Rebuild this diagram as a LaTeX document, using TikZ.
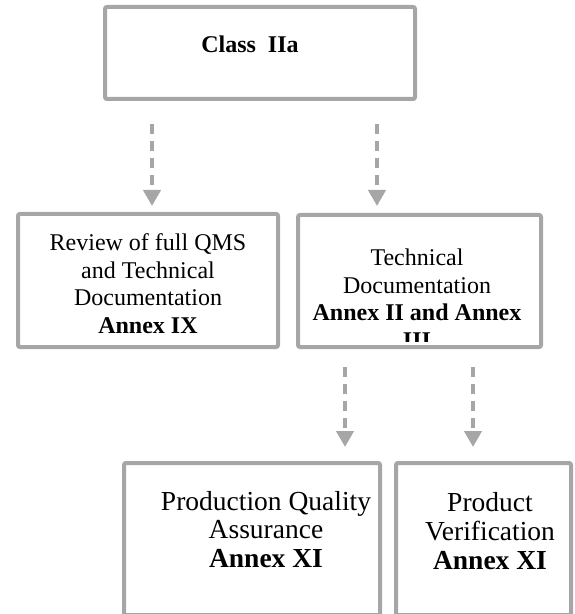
\documentclass[tikz,border=0pt]{standalone}
\usepackage{fontspec}
\setmainfont{Liberation Serif}
\usetikzlibrary{arrows.meta}
\definecolor{boxgray}{HTML}{A6A6A6}

\begin{document}
\begin{tikzpicture}[x=0.5pt,y=-0.5pt]
\tikzstyle{every node}+=[inner sep=0pt]
\tikzstyle{box}=[rectangle, draw=boxgray, line width=2pt, rounded corners=1pt]
\tikzstyle{flow}=[draw=boxgray, line width=2pt, dash pattern=on 5pt off 3.5pt, -{Triangle[width=8.5pt,length=8pt]}]
\tikzstyle{txt}=[align=center, font=\fontsize{12}{13.8}\selectfont]
\tikzstyle{bigtxt}=[align=center, font=\fontsize{13.75}{14.4}\selectfont]
\useasboundingbox (0,0) rectangle (574,614);
\clip (0,0) rectangle (574,614);
\node [box, minimum width=155pt, minimum height=46pt] (classbox) at (260,53) {};
\node [txt] (classtext) at (250,44) {\textbf{Class\ \ IIa}};
\node [box, minimum width=130pt, minimum height=66.5pt] (qmsbox) at (148,280.5) {};
\node [txt] (qmstext) at (148,283.5) {Review of full QMS\\and Technical\\Documentation\\\textbf{Annex IX}};
\node [box, minimum width=121.5pt, minimum height=66pt] (techbox) at (419.5,281) {};
\begin{scope}
\clip ([shift={(4pt,-4pt)}]techbox.north west) rectangle ([shift={(-4pt,4pt)}]techbox.south east);
\node [txt] (techtext) at (417,298.5) {Technical\\Documentation\\\textbf{Annex II and Annex}\\\textbf{III}};
\end{scope}
\node [box, minimum width=128pt, minimum height=76pt] (pqabox) at (252,539) {};
\node [bigtxt] (pqatext) at (266,529.5) {Production Quality\\Assurance\\\textbf{Annex XI}};
\node [box, minimum width=87.5pt, minimum height=76pt] (pvbox) at (483.5,539) {};
\node [bigtxt] (pvtext) at (490,531) {Product\\Verification\\\textbf{Annex XI}};
\coordinate (qmsfrom) at (152,124);
\coordinate (qmsto) at (152,206);
\coordinate (techfrom) at (377,124);
\coordinate (techto) at (377,206);
\coordinate (pqafrom) at (345,367);
\coordinate (pqato) at (345,447);
\coordinate (pvfrom) at (473,367);
\coordinate (pvto) at (473,447);
\draw [flow] (qmsfrom) -- (qmsto);
\draw [flow] (techfrom) -- (techto);
\draw [flow] (pqafrom) -- (pqato);
\draw [flow] (pvfrom) -- (pvto);
\end{tikzpicture}
\end{document}
